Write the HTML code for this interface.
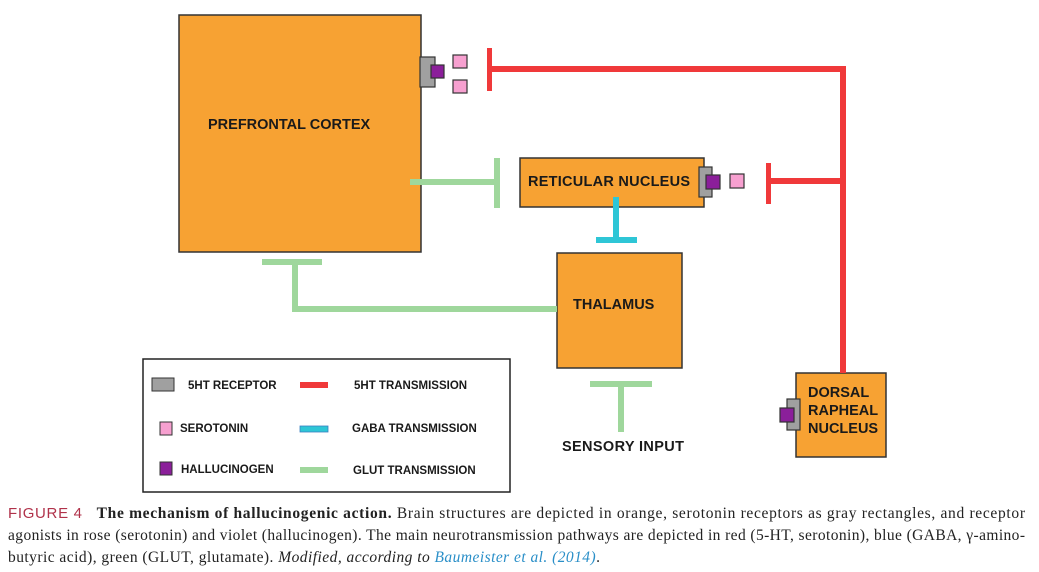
<!DOCTYPE html>
<html><head><meta charset="utf-8"><style>
html,body{margin:0;padding:0;background:#fff;}
svg{display:block;}
.d{font-family:"Liberation Sans",Arial,sans-serif;font-weight:bold;fill:#1a1a1a;}
.c{font-family:"Liberation Serif","Times New Roman",serif;font-size:15.5px;fill:#222;}
</style></head><body>
<svg width="1039" height="572" viewBox="0 0 1039 572" xmlns="http://www.w3.org/2000/svg">
<g stroke="#333" stroke-width="1.5">
<rect x="179" y="15" width="242" height="237" fill="#f7a233"/>
<rect x="520" y="158" width="184" height="49" fill="#f7a233"/>
<rect x="557" y="253" width="125" height="115" fill="#f7a233"/>
<rect x="796" y="373" width="90" height="84" fill="#f7a233"/>
</g>
<g fill="#f0393a">
<rect x="487" y="48" width="5" height="43"/>
<rect x="490" y="66" width="356" height="6"/>
<rect x="840" y="66" width="6" height="307"/>
<rect x="766" y="163" width="5" height="41"/>
<rect x="769" y="178" width="74" height="6"/>
</g>
<g fill="#9fd79c">
<rect x="410" y="179" width="88" height="6"/>
<rect x="494" y="158" width="6" height="50"/>
<rect x="292" y="306" width="265" height="6"/>
<rect x="292" y="262" width="6" height="50"/>
<rect x="262" y="259" width="60" height="6"/>
<rect x="590" y="381" width="62" height="6"/>
<rect x="618" y="383" width="6" height="49"/>
</g>
<g fill="#2ec6d6">
<rect x="613" y="197" width="6" height="43"/>
<rect x="596" y="237" width="41" height="6"/>
</g>
<g stroke="#333" stroke-width="1.2">
<rect x="420" y="57" width="15" height="30" fill="#a0a0a0"/>
<rect x="431" y="65" width="13" height="13" fill="#8b1f9a"/>
<rect x="453" y="55" width="14" height="13" fill="#f7a0d0"/>
<rect x="453" y="80" width="14" height="13" fill="#f7a0d0"/>
<rect x="699" y="167" width="13" height="30" fill="#a0a0a0"/>
<rect x="706" y="175" width="14" height="14" fill="#8b1f9a"/>
<rect x="730" y="174" width="14" height="14" fill="#f7a0d0"/>
<rect x="787" y="399" width="13" height="31" fill="#a0a0a0"/>
<rect x="780" y="408" width="14" height="14" fill="#8b1f9a"/>
</g>
<text class="d" x="208" y="129" font-size="14.5">PREFRONTAL CORTEX</text>
<text class="d" x="528" y="186" font-size="14.5" textLength="162">RETICULAR NUCLEUS</text>
<text class="d" x="573" y="309" font-size="14.5">THALAMUS</text>
<text class="d" x="808" y="397" font-size="14.5">DORSAL</text>
<text class="d" x="808" y="415" font-size="14.5">RAPHEAL</text>
<text class="d" x="808" y="433" font-size="14.5">NUCLEUS</text>
<text class="d" x="562" y="451" font-size="14.5" textLength="122">SENSORY INPUT</text>
<rect x="143" y="359" width="367" height="133" fill="#fff" stroke="#222" stroke-width="1.5"/>
<g stroke="#333" stroke-width="1">
<rect x="152" y="378" width="22" height="13" fill="#a0a0a0"/>
<rect x="160" y="422" width="12" height="13" fill="#f7a0d0"/>
<rect x="160" y="462" width="12" height="13" fill="#8b1f9a"/>
</g>
<rect x="300" y="382" width="28" height="6" fill="#f0393a"/>
<rect x="300" y="426" width="28" height="6" fill="#2ec6d6" stroke="#3a7fc0" stroke-width="0.8"/>
<rect x="300" y="467" width="28" height="6" fill="#9fd79c"/>
<g class="d" font-size="11.5">
<text x="188" y="389">5HT RECEPTOR</text>
<text x="180" y="432">SEROTONIN</text>
<text x="181" y="473">HALLUCINOGEN</text>
<text x="354" y="389">5HT TRANSMISSION</text>
<text x="352" y="432">GABA TRANSMISSION</text>
<text x="353" y="474">GLUT TRANSMISSION</text>
</g>
<text class="c" x="8" y="518" textLength="1017" lengthAdjust="spacing"><tspan font-family="Liberation Sans,sans-serif" fill="#b0324a" font-size="15">FIGURE 4</tspan><tspan dx="14" font-weight="bold">The mechanism of hallucinogenic action.</tspan> Brain structures are depicted in orange, serotonin receptors as gray rectangles, and receptor</text>
<text class="c" x="8" y="540" textLength="1017" lengthAdjust="spacing">agonists in rose (serotonin) and violet (hallucinogen). The main neurotransmission pathways are depicted in red (5-HT, serotonin), blue (GABA, γ-amino-</text>
<text class="c" x="8" y="562" textLength="592" lengthAdjust="spacing">butyric acid), green (GLUT, glutamate). <tspan font-style="italic">Modified, according to </tspan><tspan font-style="italic" fill="#2a8fc8">Baumeister et al. (2014)</tspan>.</text>
</svg>
</body></html>
